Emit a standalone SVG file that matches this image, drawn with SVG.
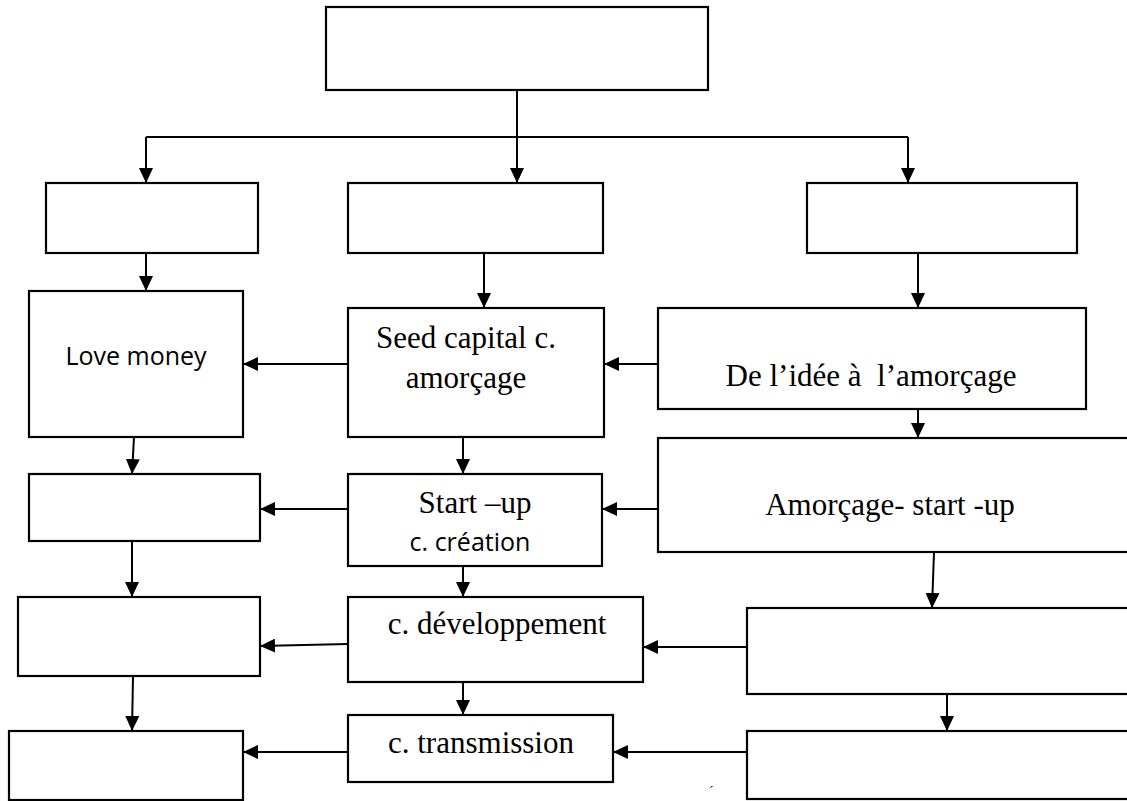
<svg xmlns="http://www.w3.org/2000/svg" width="1127" height="801" viewBox="0 0 1127 801">
  <defs>
    <marker id="arrow" markerUnits="userSpaceOnUse" markerWidth="15" markerHeight="14" refX="15" refY="7" orient="auto">
      <path d="M0,0 L15,7 L0,14 Z" fill="#000"/>
    </marker>
    <style>
      .box { fill: #fff; stroke: #000; stroke-width: 2.2; }
      .link { fill: none; stroke: #000; stroke-width: 2; }
      .arr { marker-end: url(#arrow); }
      .serif { font-family: "Liberation Serif", "Times New Roman", serif; font-size: 31px; fill: #000; text-anchor: middle; }
      .sans { font-family: "Open Sans", "Noto Sans", sans-serif; font-size: 25px; fill: #000; text-anchor: middle; }
    </style>
  </defs>
  <rect width="1127" height="801" fill="#fff"/>

  <!-- connectors -->
  <g id="connectors">
    <path class="link arr" d="M517,90 V183"/>
    <path class="link" d="M146,137 H908"/>
    <path class="link arr" d="M146,137 V183"/>
    <path class="link arr" d="M908,137 V183"/>

    <path class="link arr" d="M146,253 V291"/>
    <path class="link arr" d="M484,253 V308"/>
    <path class="link arr" d="M918,253 V308"/>

    <path class="link arr" d="M348,364 H243"/>
    <path class="link arr" d="M658,364 H604"/>
    <path class="link arr" d="M918,409 V438"/>

    <path class="link arr" d="M134,437 L132,474"/>
    <path class="link arr" d="M463,437 V474"/>
    <path class="link arr" d="M348,509 H260"/>
    <path class="link arr" d="M658,509 H602"/>

    <path class="link arr" d="M132,541 V597"/>
    <path class="link arr" d="M463,566 V597"/>
    <path class="link arr" d="M934,552 L932,608"/>
    <path class="link arr" d="M348,644 L260,646"/>
    <path class="link arr" d="M747,647 H643"/>

    <path class="link arr" d="M133,676 L132,731"/>
    <path class="link arr" d="M463,682 V715"/>
    <path class="link arr" d="M947,694 V731"/>
    <path class="link arr" d="M348,752 H243"/>
    <path class="link arr" d="M747,752 H613"/>
  </g>

  <!-- top level -->
  <g id="root"><rect class="box" x="326" y="7" width="382" height="83"/></g>

  <!-- second row -->
  <g id="left-2"><rect class="box" x="46" y="183" width="212" height="70"/></g>
  <g id="mid-2"><rect class="box" x="348" y="183" width="255" height="70"/></g>
  <g id="right-2"><rect class="box" x="807" y="183" width="270" height="70"/></g>

  <!-- third row -->
  <g id="love-money">
    <rect class="box" x="29" y="291" width="214" height="146"/>
    <text class="sans" x="136" y="365">Love money</text>
  </g>
  <g id="seed-capital">
    <rect class="box" x="348" y="308" width="256" height="129"/>
    <text class="serif" x="466" y="348">Seed capital c.</text>
    <text class="serif" x="466" y="388">amorçage</text>
  </g>
  <g id="idee-amorcage">
    <rect class="box" x="658" y="308" width="428" height="101"/>
    <text class="serif" x="871" y="386" xml:space="preserve">De l’idée à  l’amorçage</text>
  </g>

  <!-- fourth row -->
  <g id="left-4"><rect class="box" x="29" y="474" width="231" height="67"/></g>
  <g id="start-up">
    <rect class="box" x="348" y="474" width="254" height="92"/>
    <text class="serif" x="475" y="513">Start –up</text>
    <text class="sans" x="470" y="551">c. création</text>
  </g>
  <g id="amorcage-start-up">
    <rect class="box" x="658" y="438" width="480" height="114"/>
    <text class="serif" x="890" y="515">Amorçage- start -up</text>
  </g>

  <!-- fifth row -->
  <g id="left-5"><rect class="box" x="18" y="597" width="242" height="79"/></g>
  <g id="developpement">
    <rect class="box" x="348" y="597" width="295" height="85"/>
    <text class="serif" x="497" y="634">c. développement</text>
  </g>
  <g id="right-5"><rect class="box" x="747" y="608" width="390" height="86"/></g>

  <!-- sixth row -->
  <g id="left-6"><rect class="box" x="9" y="731" width="234" height="69"/></g>
  <g id="transmission">
    <rect class="box" x="348" y="715" width="265" height="67"/>
    <text class="serif" x="481" y="753">c. transmission</text>
  </g>
  <g id="right-6"><rect class="box" x="747" y="731" width="390" height="68"/></g>

  <!-- stray accent at the lower edge -->
  <text x="709" y="796" font-family="Liberation Serif, serif" font-size="14px" fill="#000">´</text>
</svg>
